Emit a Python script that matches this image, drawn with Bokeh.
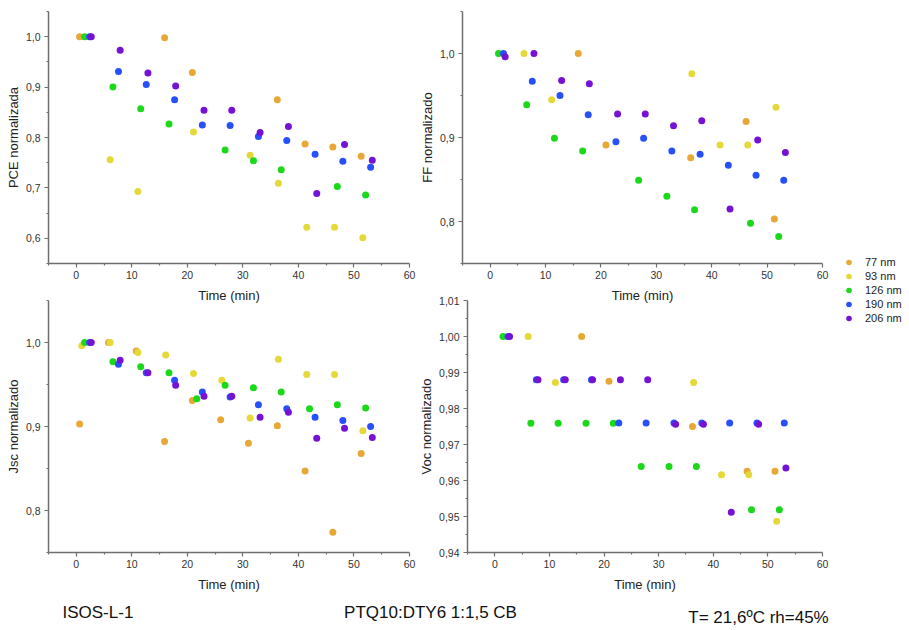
import numpy as np
from bokeh.plotting import figure
from bokeh.layouts import row, column
from bokeh.models import Range1d, FixedTicker, Legend, LegendItem, Label
from bokeh.embed import file_html
from bokeh.resources import INLINE

FONT = "Liberation Sans"

# ---------------- data ----------------
series_names = ["77 nm", "93 nm", "126 nm", "190 nm", "206 nm"]
series_colors = ["#E8A838", "#E5D93A", "#1BD81B", "#2850FA", "#7612D4"]

time_77 = [0.6, 5.8, 10.8, 15.9, 20.9, 26.0, 31.0, 36.2, 41.2, 46.2, 51.3]
time_93 = [1.0, 6.1, 11.1, 16.1, 21.1, 26.2, 31.3, 36.4, 41.5, 46.5, 51.6]
time_126 = [1.5, 6.6, 11.6, 16.7, 21.7, 26.8, 31.9, 36.9, 42.0, 47.0, 52.1]
time_190 = [2.4, 7.6, 12.6, 17.7, 22.7, 27.7, 32.8, 37.9, 43.0, 48.0, 53.0]
time_206 = [2.7, 7.9, 12.9, 17.9, 23.0, 28.0, 33.1, 38.2, 43.3, 48.3, 53.3]

pce_77 = [1.0, None, None, 0.998, 0.929, None, None, 0.875, 0.787, 0.781, 0.763]
pce_93 = [None, 0.756, 0.693, None, 0.811, None, 0.765, 0.709, 0.622, 0.622, 0.601]
pce_126 = [1.0, 0.900, 0.857, 0.827, None, 0.775, 0.754, 0.736, None, 0.703, 0.686]
pce_190 = [1.0, 0.931, 0.905, 0.875, 0.825, 0.824, 0.802, 0.794, 0.767, 0.753, 0.741]
pce_206 = [1.0, 0.973, 0.928, 0.902, 0.854, 0.854, 0.810, 0.822, 0.689, 0.786, 0.755]

ff_77 = [None, None, None, 1.0, 0.891, None, None, 0.876, None, 0.919, 0.803]
ff_93 = [None, 1.0, 0.945, None, None, None, None, 0.976, 0.891, 0.891, 0.936]
ff_126 = [1.0, 0.939, 0.899, 0.884, None, 0.849, 0.830, 0.814, None, 0.798, 0.782]
ff_190 = [1.0, 0.967, 0.950, 0.927, 0.895, 0.899, 0.884, 0.880, 0.867, 0.855, 0.849]
ff_206 = [0.996, 1.0, 0.968, 0.964, 0.928, 0.928, 0.914, 0.920, 0.815, 0.897, 0.882]

jsc_77 = [0.903, 1.0, 0.990, 0.882, 0.931, 0.908, 0.880, 0.901, 0.847, 0.774, 0.868]
jsc_93 = [0.996, 1.0, 0.988, 0.985, 0.963, 0.955, 0.910, 0.980, 0.962, 0.962, 0.895]
jsc_126 = [1.0, 0.977, 0.971, 0.964, 0.933, 0.949, 0.946, 0.941, 0.921, 0.926, 0.922]
jsc_190 = [1.0, 0.974, 0.964, 0.955, 0.941, 0.935, 0.926, 0.921, 0.911, 0.907, 0.900]
jsc_206 = [1.0, 0.979, 0.964, 0.949, 0.936, 0.936, 0.911, 0.917, 0.886, 0.898, 0.887]

voc_77 = [None, None, None, 1.0, 0.9876, None, None, 0.975, None, 0.9626, 0.9626]
voc_93 = [None, 1.0, 0.9872, None, None, None, None, 0.9872, 0.9616, 0.9616, 0.9487]
voc_126 = [1.0, 0.9759, 0.9759, 0.9759, 0.9759, 0.9639, 0.9639, 0.9639, None, 0.9519, 0.9519]
voc_190 = [1.0, 0.988, 0.988, 0.988, 0.976, 0.976, 0.976, 0.976, 0.976, 0.976, 0.976]
voc_206 = [1.0, 0.988, 0.988, 0.988, 0.988, 0.988, 0.9756, 0.9756, 0.9512, 0.9756, 0.9635]

times = [time_77, time_93, time_126, time_190, time_206]

x_ticks = [0, 10, 20, 30, 40, 50, 60]
x_tick_labels = ["0", "10", "20", "30", "40", "50", "60"]
x_minor_ticks = [-5, 5, 15, 25, 35, 45, 55]

pce_ticks = [0.6, 0.7, 0.8, 0.9, 1.0]
pce_tick_labels = ["0,6", "0,7", "0,8", "0,9", "1,0"]
pce_minor_ticks = [0.55, 0.65, 0.75, 0.85, 0.95, 1.05]

ff_ticks = [0.8, 0.9, 1.0]
ff_tick_labels = ["0,8", "0,9", "1,0"]
ff_minor_ticks = [0.75, 0.85, 0.95, 1.05]

jsc_ticks = [0.8, 0.9, 1.0]
jsc_tick_labels = ["0,8", "0,9", "1,0"]
jsc_minor_ticks = [0.75, 0.85, 0.95, 1.05]

voc_ticks = [0.94, 0.95, 0.96, 0.97, 0.98, 0.99, 1.00, 1.01]
voc_tick_labels = ["0,94", "0,95", "0,96", "0,97", "0,98", "0,99", "1,00", "1,01"]
voc_minor_ticks = [0.945, 0.955, 0.965, 0.975, 0.985, 0.995, 1.005]

x_label = "Time (min)"
footer_texts = ["ISOS-L-1", "PTQ10:DTY6 1:1,5 CB", "T= 21,6ºC rh=45%"]

AX_COLOR = "#6e6e6e"


def style_axis(ax, ticks, labels, minor, label_standoff, axis_label_standoff):
    ax.ticker = FixedTicker(ticks=ticks, minor_ticks=minor)
    ax.major_label_overrides = dict(zip(ticks, labels))
    ax.axis_line_color = AX_COLOR
    ax.axis_line_width = 1.5
    ax.major_tick_line_color = AX_COLOR
    ax.major_tick_line_width = 1.2
    ax.major_tick_out = 4
    ax.major_tick_in = 0
    ax.minor_tick_line_color = AX_COLOR
    ax.minor_tick_line_width = 1.2
    ax.minor_tick_out = 2
    ax.minor_tick_in = 0
    ax.major_label_text_font = FONT
    ax.major_label_text_font_size = "10.5px"
    ax.major_label_text_color = "#333333"
    ax.major_label_standoff = label_standoff
    ax.axis_label_text_font = FONT
    ax.axis_label_text_font_size = "13px"
    ax.axis_label_text_font_style = "normal"
    ax.axis_label_text_color = "#222222"
    ax.axis_label_standoff = axis_label_standoff


def make_panel(values, ylabel, yr, yticks, ylabels, yminor, width, height,
               border_left, border_top, transparent=False):
    p = figure(width=width, height=height, x_range=Range1d(-5, 60),
               y_range=Range1d(*yr), output_backend="svg", toolbar_location=None,
               min_border_left=border_left, min_border_right=7,
               min_border_top=border_top, min_border_bottom=41)
    p.xgrid.visible = False
    p.ygrid.visible = False
    p.outline_line_color = None
    if transparent:
        p.background_fill_color = None
        p.border_fill_color = None
    for t, v, c in zip(times, values, series_colors):
        p.scatter(np.array(t, dtype=float), np.array(v, dtype=float), size=7,
                  fill_color=c, line_color=None)
    p.xaxis.axis_label = x_label
    p.yaxis.axis_label = ylabel
    style_axis(p.xaxis[0], x_ticks, x_tick_labels, x_minor_ticks, 3, 6)
    style_axis(p.yaxis[0], yticks, ylabels, yminor, 4, 2)
    return p


pce = make_panel([pce_77, pce_93, pce_126, pce_190, pce_206], "PCE normalizada",
                 (0.55, 1.05), pce_ticks, pce_tick_labels, pce_minor_ticks,
                 416, 305, 48, 11)
ff = make_panel([ff_77, ff_93, ff_126, ff_190, ff_206], "FF normalizado",
                (0.75, 1.05), ff_ticks, ff_tick_labels, ff_minor_ticks,
                413, 305, 44, 11)
jsc = make_panel([jsc_77, jsc_93, jsc_126, jsc_190, jsc_206], "Jsc normalizado",
                 (0.75, 1.05), jsc_ticks, jsc_tick_labels, jsc_minor_ticks,
                 416, 304, 48, 10, transparent=True)
voc = make_panel([voc_77, voc_93, voc_126, voc_190, voc_206], "Voc normalizado",
                 (0.94, 1.01), voc_ticks, voc_tick_labels, voc_minor_ticks,
                 413, 304, 44, 10, transparent=True)

# ---------------- legend ----------------
lg = figure(width=80, height=594, x_range=Range1d(0, 1), y_range=Range1d(0, 1),
            x_axis_type=None, y_axis_type=None, output_backend="svg",
            toolbar_location=None, min_border=0)
lg.outline_line_color = None
items = []
for name, c in zip(series_names, series_colors):
    # a single NaN placeholder: nothing is plotted, only the legend swatch
    r = lg.scatter(x=[np.nan], y=[np.nan], size=6, fill_color=c, line_color=None)
    items.append(LegendItem(label=name, renderers=[r]))
legend = Legend(items=items, location=(12, 269), border_line_color=None,
                background_fill_alpha=0, padding=0, margin=0, spacing=0,
                glyph_width=15, glyph_height=14, label_height=14,
                label_standoff=9, label_text_font=FONT,
                label_text_font_size="11px", label_text_color="#222222")
lg.add_layout(legend)

# ---------------- footer ----------------
tf = figure(width=909, height=36, x_range=Range1d(0, 909), y_range=Range1d(0, 36),
            x_axis_type=None, y_axis_type=None, output_backend="svg",
            toolbar_location=None, min_border=0)
tf.outline_line_color = None
footer_pos = [(62, 18, "left"), (430, 18, "center"), (758, 13, "center")]
for txt, (fx, fy, al) in zip(footer_texts, footer_pos):
    tf.add_layout(Label(x=fx, y=fy, x_units="screen", y_units="screen", text=txt,
                        text_font=FONT, text_font_size="17px", text_color="#111111",
                        text_align=al, text_baseline="middle"))

top = row(pce, ff)
bottom = row(jsc, voc, margin=(-15, 0, 0, 0))
main = column(top, bottom)
layout = column(row(main, lg), tf)

open("out.html", "w").write(file_html(layout, INLINE))
